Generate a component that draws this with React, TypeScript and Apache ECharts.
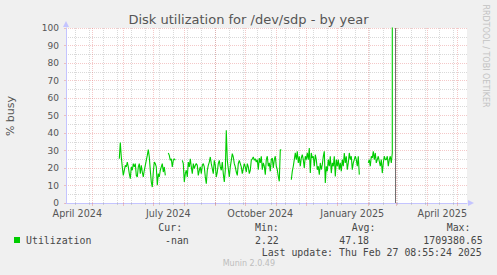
import React, { useEffect, useRef } from 'react';
import * as echarts from 'echarts';

const titleText = 'Disk utilization for /dev/sdp - by year';
const yAxisName = '% busy';
const seriesName = 'Utilization';
const sideText = 'RRDTOOL / TOBI OETIKER';
const footerText = 'Munin 2.0.49';
const lastUpdate = 'Last update: Thu Feb 27 08:55:24 2025';

const statHeaders = ['Cur:', 'Min:', 'Avg:', 'Max:'];
const statValues = ['-nan', '2.22', '47.18', '1709380.65'];

// daily samples, first one on startDate
const startDate = '2024-05-28';
const utilValues: (number | null)[] = [
  25.3, 34.5, 26.3, 20.6, 15.8, 18.7, 21.5, 20.6, 23.4, 20.6,
  16.8, 13.9, 20.6, 18.7, 22.5, 20.6, 22.5, 15.8, 14.9, 20.6,
  22.5, 16.8, 21.5, 17.7, 14.9, 18.7, 21.5, 24.4, 27.2, 30.5,
  26.3, 18.7, 12, 9.1, 17.7, 23.4, 22.5, 20.6, 10.1, 16.8,
  14.9, 18.7, 20.6, 22.5, 17.7, 20.6, 15.8, null, null, 28.6,
  27.2, 24.4, 25.3, 20.6, 24.4, 25.3, 24.4, null, null, null,
  null, null, null, 24.4, 22.5, 12, 16.8, 18.7, 14.9, 23.4,
  20.6, 25.3, 20.6, 16.8, 22.5, 19.6, 21.5, 22.5, 21.5, 15.8,
  18.7, 20.6, 16.8, 21.5, 22.5, 20.6, 14.9, 11, 18.7, 21.5,
  23.4, 26.3, 22.5, 19.6, 16.8, 24.4, 21.5, 14.9, 17.7, 22.5,
  24.4, 20.6, 18.7, 23.4, 16.8, 12, 18.7, 41.5, 24.4, 19.6,
  14.9, 20.6, 24.4, 28.2, 26.3, 22.5, 20.6, 17.7, 15.8, 22.5,
  24.4, 22.5, 20.6, 16.8, 19.6, 22.5, 20.6, 17.7, 22.5, 20.6,
  16.8, 18.7, 24.4, 25.3, 26.3, 24.4, 25.3, 23.4, 24.8, 19,
  25.7, 22.9, 26.7, 19, 22.9, 21, 16.2, 24.8, 26.7, 21,
  22.9, 18.1, 24.8, 25.7, 20, 24.8, 26.7, 21, 19, 15.2,
  12.4, 30.5, 30.1, null, null, null, null, null, null, null,
  null, null, 13.3, 18.1, 21, 24.8, 28.6, 24.8, 29.5, 22.9,
  26.7, 21, 25.7, 27.6, 24.8, 20, 26.7, 24.8, 28.6, 24.8,
  31.4, 17.1, 28.6, 25.7, 26.7, 21, 27.6, 24.8, 19, 21,
  16.2, 22.9, 19, 21.9, 26.7, 29.5, 11.4, 21, 18.1, 24.8,
  21, 26.7, 17.1, 22.9, 21, 26.7, 15.2, 24.8, 21, 24.8,
  19, 22.9, 18.1, 24.8, 21, 28.6, 22.9, 26.7, 19, 22.9,
  28.6, 24.8, 26.7, 19, 22.9, 24.8, 26.7, 24.8, 21, 26.7,
  16.2, null, null, null, null, null, null, null, null, 22.9,
  24.8, 21, 26.7, 25.7, 29.5, 24.8, 28.6, 22.9, 24.8, 26.7,
  23.8, 21, 24.8, 17.1, 22.9, 26.7, 24.8, 24.8, 26.7, 21,
  24.8, 26.7, 22.9, 28.6, 1709380.65,
];

const xLabelDates = ['2024-04-16', '2024-07-16', '2024-10-16', '2025-01-16', '2025-04-16'];
const xLabelTexts = ['April 2024', 'July 2024', 'October 2024', 'January 2025', 'April 2025'];
const monthStarts = [
  '2024-05-01', '2024-06-01', '2024-07-01', '2024-08-01', '2024-09-01', '2024-10-01',
  '2024-11-01', '2024-12-01', '2025-01-01', '2025-02-01', '2025-03-01', '2025-04-01', '2025-05-01',
];
const minorDates = [
  '2024-04-14', '2024-04-28', '2024-05-12', '2024-05-26', '2024-06-09', '2024-06-23',
  '2024-07-07', '2024-07-21', '2024-08-04', '2024-08-18', '2024-09-01', '2024-09-15',
  '2024-09-29', '2024-10-13', '2024-10-27', '2024-11-10', '2024-11-24', '2024-12-08',
  '2024-12-22', '2025-01-05', '2025-01-19', '2025-02-02', '2025-02-16', '2025-03-02',
  '2025-03-16', '2025-03-30', '2025-04-13', '2025-04-27',
];
const nowMarker = '2025-02-28';

const DAY = 86400000;
const toMs = (s: string) => Date.parse(s + 'T00:00:00Z');
const xMin = Date.UTC(2024, 3, 4, 17);
const xMax = xMin + 401 * DAY;

const RED = 'rgba(225,110,110,0.38)';
const GRAY = 'rgba(160,160,160,0.4)';
const AXIS = '#c4c4ff';

export default function App() {
  const ref = useRef<HTMLDivElement>(null);
  useEffect(() => {
    document.body.style.margin = '0';
    document.body.style.background = '#f0f0f0';
    const chart = echarts.init(ref.current!, null, { renderer: 'svg' });
    const t0 = toMs(startDate);
    const data = utilValues.map((v, i) => [t0 + i * DAY, v]);
    const labelMs = xLabelDates.map(toMs);

    const markData: any[] = [
      ...minorDates.map((d) => ({ xAxis: toMs(d), lineStyle: { color: GRAY, type: [1, 1], width: 1 } })),
      ...monthStarts.map((d) => ({ xAxis: toMs(d), lineStyle: { color: RED, type: [1, 1], width: 1 } })),
      { xAxis: toMs(nowMarker), lineStyle: { color: '#707070', type: 'solid', width: 1 } },
    ];

    const mono = 'DejaVu Sans Mono';
    const legendFont = 9.9;
    const hdrX = [158.3, 255, 351.7, 446.7];
    const valX = [165, 255, 339.3, 423.3];
    const txt = (text: string, x: number, y: number, extra: any = {}) => ({
      type: 'text',
      x,
      y,
      silent: true,
      style: {
        text,
        fontFamily: mono,
        fontSize: legendFont,
        fill: '#474747',
        align: 'left',
        verticalAlign: 'middle',
        ...extra,
      },
    });

    const hiddenX = (values: number[], len: number, color: string) => ({
      type: 'value',
      min: xMin,
      max: xMax,
      position: 'bottom',
      axisLine: { show: false },
      axisLabel: { show: false },
      splitLine: { show: false },
      axisTick: { show: true, customValues: values, length: len, lineStyle: { color } },
    });

    const option: any = {
      animation: false,
      backgroundColor: '#f0f0f0',
      grid: {
        left: 66,
        right: 30,
        top: 28,
        bottom: 72,
        show: true,
        backgroundColor: '#ffffff',
        borderWidth: 0,
      },
      xAxis: [
        {
          type: 'value',
          min: xMin,
          max: xMax,
          position: 'bottom',
          axisLine: {
            show: true,
            lineStyle: { color: AXIS, width: 1 },
            symbol: ['none', 'triangle'],
            symbolSize: [6, 6],
            symbolOffset: [0, 4],
          },
          axisTick: { show: false },
          splitLine: { show: false },
          axisLabel: {
            show: true,
            customValues: labelMs,
            formatter: (v: number) => {
              const i = labelMs.indexOf(v);
              return i >= 0 ? xLabelTexts[i] : '';
            },
            color: '#555',
            fontSize: 9.6,
            fontFamily: 'DejaVu Sans',
            lineHeight: 10,
            margin: 5,
            hideOverlap: false,
          },
        },
        hiddenX(minorDates.map(toMs), 2, GRAY),
        hiddenX(monthStarts.map(toMs), 3, RED),
      ],
      yAxis: {
        type: 'value',
        min: 0,
        max: 100,
        interval: 10,
        axisLine: {
          show: true,
          lineStyle: { color: AXIS, width: 1 },
          symbol: ['none', 'triangle'],
          symbolSize: [6, 6],
          symbolOffset: [0, 4],
        },
        axisTick: { show: true, length: 2, lineStyle: { color: RED } },
        axisLabel: {
          color: '#555',
          fontSize: 9,
          fontFamily: 'DejaVu Sans',
          lineHeight: 7,
          margin: 7,
          verticalAlign: 'middle',
        },
        splitLine: { show: true, lineStyle: { color: RED, type: [1, 1], width: 1 } },
        minorTick: { show: false, splitNumber: 2 },
        minorSplitLine: { show: true, lineStyle: { color: GRAY, type: [1, 1], width: 1 } },
      },
      series: [
        {
          name: seriesName,
          type: 'line',
          xAxisIndex: 0,
          yAxisIndex: 0,
          data,
          showSymbol: false,
          symbol: 'none',
          connectNulls: false,
          clip: true,
          z: 3,
          lineStyle: { color: '#00cc00', width: 1.1 },
          emphasis: { disabled: true },
          markLine: {
            silent: true,
            z: 1,
            symbol: ['none', 'none'],
            label: { show: false },
            emphasis: { disabled: true },
            data: markData,
          },
        },
      ],
      graphic: [
        {
          type: 'text',
          x: 248.5,
          y: 19.5,
          silent: true,
          style: {
            text: titleText,
            fontFamily: 'DejaVu Sans',
            fontSize: 13,
            fill: '#555',
            align: 'center',
            verticalAlign: 'middle',
          },
        },
        {
          type: 'text',
          x: 485,
          y: 56,
          rotation: -Math.PI / 2,
          silent: true,
          style: {
            text: sideText,
            fontFamily: 'DejaVu Sans',
            fontSize: 8,
            fill: '#c2c2c2',
            align: 'center',
            verticalAlign: 'middle',
          },
        },
        {
          type: 'text',
          x: 10,
          y: 116,
          rotation: Math.PI / 2,
          silent: true,
          style: {
            text: yAxisName,
            fontFamily: 'DejaVu Sans',
            fontSize: 11,
            fill: '#555',
            align: 'center',
            verticalAlign: 'middle',
          },
        },
        {
          type: 'rect',
          silent: true,
          shape: { x: 14, y: 237, width: 6, height: 6 },
          style: { fill: '#00cc00' },
        },
        txt(seriesName, 26, 240),
        ...statHeaders.map((h, i) => txt(h, hdrX[i], 227.5)),
        ...statValues.map((v, i) => txt(v, valX[i], 240)),
        txt(lastUpdate, 261.7, 252),
        {
          type: 'text',
          x: 222.7,
          y: 263.5,
          silent: true,
          style: {
            text: footerText,
            fontFamily: 'DejaVu Sans',
            fontSize: 8,
            fill: '#bdbdbd',
            align: 'left',
            verticalAlign: 'middle',
          },
        },
      ],
    };
    chart.setOption(option);
    return () => chart.dispose();
  }, []);
  return <div ref={ref} style={{ width: 497, height: 275 }} />;
}
